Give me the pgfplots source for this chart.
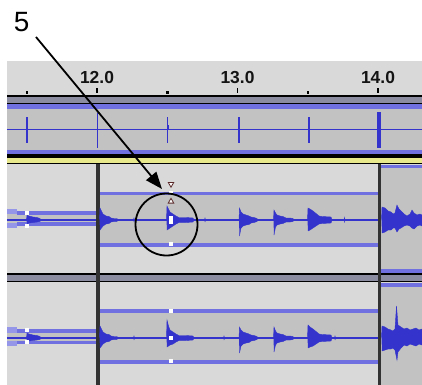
\documentclass[border=0pt]{standalone}
\usepackage{pgfplots}
\pgfplotsset{compat=1.18}
\usetikzlibrary{arrows.meta}
\usepackage{fontspec}
\setmainfont{Liberation Sans}
\definecolor{bg}{RGB}{217,217,217}
\definecolor{clipgray}{RGB}{194,194,194}
\definecolor{band}{RGB}{112,112,224}
\definecolor{bandlight}{RGB}{150,150,232}
\definecolor{wave}{RGB}{52,52,204}
\definecolor{sep}{RGB}{140,140,160}
\definecolor{yel}{RGB}{232,232,140}
\definecolor{clipline}{RGB}{50,50,50}
\definecolor{tri}{RGB}{90,40,40}
\newcommand{\rect}[5]{\addplot[fill=#1,draw=none,forget plot] coordinates {(#2,#3) (#4,#3) (#4,#5) (#2,#5)};}
\newcommand{\wv}[1]{\addplot[fill=wave,draw=wave,line width=0.4bp,forget plot] coordinates {#1};}
\begin{document}
\begin{tikzpicture}
\begin{axis}[width=422bp, height=385bp, scale only axis,
  xmin=11.3096, xmax=14.3132, ymin=0, ymax=385, y dir=reverse,
  hide axis, clip=true]
% backgrounds
\rect{white}{11.3096}{0}{14.3132}{385}
\rect{bg}{11.3594}{61}{14.3132}{95}
\rect{black}{11.3594}{95}{14.3132}{104}
\rect{sep}{11.3594}{96.5}{14.3132}{102.5}
\rect{band}{11.3594}{104}{14.3132}{109}
\rect{clipgray}{11.3594}{109}{14.3132}{150}
\rect{band}{11.3594}{150}{14.3132}{154}
\rect{black}{11.3594}{154}{14.3132}{164}
\rect{yel}{11.3594}{157.5}{14.3132}{162.5}
\rect{bg}{11.3594}{164}{14.3132}{273}
\rect{black}{11.3594}{273}{14.3132}{282}
\rect{sep}{11.3594}{274.5}{14.3132}{280.5}
\rect{bg}{11.3594}{282}{14.3132}{385}
% clip 2, track 2
\rect{band}{12.0178}{191.5}{14.0}{195}
\rect{clipgray}{12.0178}{195}{14.0}{242.5}
\rect{band}{12.0178}{242.5}{14.0}{246.5}
% right clip, track 2
\rect{band}{14.0214}{164.5}{14.3132}{168}
\rect{clipgray}{14.0214}{168}{14.3132}{268.5}
\rect{band}{14.0214}{268.5}{14.3132}{272.5}
% clip 2, track 3
\rect{band}{12.0178}{309}{14.0}{313}
\rect{clipgray}{12.0178}{313}{14.0}{360}
\rect{band}{12.0178}{360}{14.0}{364}
% right clip, track 3
\rect{band}{14.0214}{282.5}{14.3132}{287}
\rect{clipgray}{14.0214}{287}{14.3132}{385}
% left clip bands
\rect{bandlight}{11.3594}{209}{11.4306}{228}
\rect{clipgray}{11.3594}{214}{11.4306}{223}
\rect{band}{11.4306}{211}{11.9964}{226}
\rect{clipgray}{11.4306}{215}{11.9964}{222}
\rect{bandlight}{11.3594}{327}{11.4306}{346}
\rect{clipgray}{11.3594}{333}{11.4306}{341}
\rect{band}{11.4306}{329}{11.9964}{344}
\rect{clipgray}{11.4306}{333}{11.9964}{341}
% clip boundary lines
\rect{clipline}{11.9964}{164}{12.0178}{385}
\rect{clipline}{14.0}{164}{14.0214}{385}
% centre lines
\addplot[wave,line width=1.5bp,forget plot] coordinates {(11.3594,129.3) (14.3132,129.3)};
\addplot[wave,line width=1.3bp,forget plot] coordinates {(11.3594,220) (11.9964,220)};
\addplot[wave,line width=1.3bp,forget plot] coordinates {(12.0178,220) (14.0,220)};
\addplot[wave,line width=1.3bp,forget plot] coordinates {(11.3594,338) (11.9964,338)};
\addplot[wave,line width=1.3bp,forget plot] coordinates {(12.0178,338) (14.0,338)};
% track 1 spikes
\addplot[wave,line width=2.2bp,forget plot] coordinates {(11.5018,117) (11.5018,143)};
\addplot[wave,line width=1.2bp,forget plot] coordinates {(12.0050,113) (12.0050,148)};
\addplot[wave,line width=1.5bp,forget plot] coordinates {(12.5032,117) (12.5032,143)};
\addplot[wave,line width=1.5bp,forget plot] coordinates {(12.5075,125) (12.5075,129)};
\addplot[wave,line width=2.2bp,forget plot] coordinates {(13.0093,117) (13.0093,143)};
\addplot[wave,line width=2.2bp,forget plot] coordinates {(13.5075,117) (13.5075,143)};
\addplot[wave,line width=3.5bp,forget plot] coordinates {(14.0071,112) (14.0071,148)};
% track 2 waveform
\wv{(11.4982,220)(11.5018,215)(11.5160,216)(11.5445,217)(11.5730,217.5)(11.5943,218.5)(11.6014,220)(11.5943,221.5)(11.5730,222)(11.5445,222.5)(11.5160,223)(11.5018,224)}
\wv{(12.0178,220)(12.0214,208)(12.0320,211)(12.0427,214)(12.0641,216)(12.0854,216.5)(12.0996,218)(12.1210,218.5)(12.1423,218.5)(12.1495,220)(12.1423,221.5)(12.1210,221.5)(12.0996,222)(12.0854,223.5)(12.0641,224)(12.0427,226)(12.0320,228)(12.0214,230)}
\wv{(12.2598,220)(12.2633,218)(12.2669,220)(12.2633,222)}
\wv{(12.4947,220)(12.4982,206)(12.5089,209)(12.5196,212)(12.5409,214)(12.5623,216)(12.5836,217.5)(12.6335,217.5)(12.6833,218)(12.6904,220)(12.6833,222)(12.6335,222.5)(12.5836,222.5)(12.5623,224)(12.5409,226)(12.5196,228)(12.5089,229)(12.4982,230)}
\wv{(12.7651,220)(12.7687,218)(12.7722,220)(12.7687,222)}
\wv{(13.0107,220)(13.0142,208)(13.0249,212)(13.0391,214)(13.0605,215)(13.0819,216)(13.0961,217)(13.1174,217.5)(13.1388,218.5)(13.1459,220)(13.1388,221.5)(13.1174,222.5)(13.0961,223)(13.0819,224.5)(13.0605,225)(13.0391,226)(13.0249,228)(13.0142,236)}
\wv{(13.2562,220)(13.2598,210)(13.2705,213)(13.2811,215)(13.3025,216)(13.3238,216.5)(13.3452,218)(13.3737,218)(13.3950,218.5)(13.4021,220)(13.3950,221.5)(13.3737,222)(13.3452,222)(13.3238,223.5)(13.3025,224)(13.2811,225)(13.2705,227)(13.2598,235)}
\wv{(13.4982,220)(13.5018,208)(13.5160,209)(13.5374,211)(13.5587,213.5)(13.5801,216)(13.6014,216.5)(13.6655,217)(13.6726,220)(13.6655,223)(13.6014,223.5)(13.5801,224)(13.5587,226)(13.5374,228)(13.5160,230)(13.5018,231)}
\wv{(13.7580,220)(13.7616,217.5)(13.7651,220)(13.7616,222.5)}
\wv{(14.0249,220)(14.0285,207)(14.0498,208)(14.0712,211)(14.0925,212)(14.1068,214)(14.1210,213)(14.1352,205)(14.1495,209)(14.1637,211)(14.1851,214)(14.2064,216)(14.2278,214)(14.2420,210)(14.2562,213)(14.2776,215)(14.2989,214)(14.3132,215)(14.3132,226)(14.2989,225)(14.2776,226)(14.2562,229)(14.2420,228)(14.2278,226)(14.2064,225)(14.1851,226)(14.1637,228)(14.1495,229)(14.1352,232)(14.1210,228)(14.1068,228)(14.0925,230)(14.0712,230)(14.0498,232)(14.0285,233)}
% track 3 waveform
\wv{(11.4982,338)(11.5018,333)(11.5160,334)(11.5445,335)(11.5730,335.5)(11.5943,336.5)(11.6014,338)(11.5943,339.5)(11.5730,340)(11.5445,340.5)(11.5160,341)(11.5018,342)}
\wv{(12.0178,338)(12.0214,326)(12.0320,329)(12.0427,332)(12.0641,334)(12.0854,334.5)(12.0996,336)(12.1210,336.5)(12.1423,336.5)(12.1495,338)(12.1423,339.5)(12.1210,339.5)(12.0996,340)(12.0854,341.5)(12.0641,342)(12.0427,344)(12.0320,346)(12.0214,348)}
\wv{(12.2598,338)(12.2633,336)(12.2669,338)(12.2633,340)}
\wv{(12.4947,338)(12.4982,320)(12.5089,326)(12.5196,330)(12.5409,332)(12.5623,334)(12.5836,335.5)(12.6335,335.5)(12.6833,336)(12.6904,338)(12.6833,340)(12.6335,340.5)(12.5836,340.5)(12.5623,342)(12.5409,344)(12.5196,345)(12.5089,346)(12.4982,347)}
\wv{(12.9004,338)(12.9039,336)(12.9075,338)(12.9039,340)}
\wv{(13.0107,338)(13.0142,327)(13.0249,330)(13.0391,332)(13.0605,333)(13.0819,334)(13.0961,335)(13.1174,335.5)(13.1388,336.5)(13.1459,338)(13.1388,339.5)(13.1174,340.5)(13.0961,341)(13.0819,342.5)(13.0605,343)(13.0391,344)(13.0249,346)(13.0142,353)}
\wv{(13.2562,338)(13.2598,327)(13.2705,331)(13.2811,333)(13.3025,334)(13.3238,334.5)(13.3452,336)(13.3737,336)(13.3950,336.5)(13.4021,338)(13.3950,339.5)(13.3737,340)(13.3452,340)(13.3238,341.5)(13.3025,342)(13.2811,343)(13.2705,345)(13.2598,352)}
\wv{(13.4982,338)(13.5018,325)(13.5160,327)(13.5374,329)(13.5587,331.5)(13.5801,334)(13.6014,334.5)(13.6655,335)(13.6726,338)(13.6655,341)(13.6014,341.5)(13.5801,342)(13.5587,344)(13.5374,346)(13.5160,347)(13.5018,348)}
\wv{(13.6904,338)(13.6940,336)(13.6975,338)(13.6940,340)}
\wv{(14.0249,338)(14.0285,326)(14.0498,327)(14.0712,329)(14.0925,330)(14.1068,331)(14.1210,329)(14.1317,306)(14.1423,325)(14.1637,327)(14.1851,329)(14.2064,328)(14.2278,330)(14.2491,329)(14.2705,328)(14.2918,330)(14.3132,329)(14.3132,345)(14.2918,344)(14.2705,346)(14.2491,345)(14.2278,344)(14.2064,346)(14.1851,345)(14.1637,348)(14.1423,352)(14.1352,360)(14.1210,350)(14.1068,348)(14.0925,349)(14.0712,349)(14.0498,350)(14.0285,351)}
% envelope control points
\addplot[white, only marks, mark=square*, mark size=1.3bp, mark options={fill=white, draw=white, line width=0pt}, forget plot] coordinates {
(11.5018,213) (11.5018,226) (12.5267,192.5) (12.5267,218) (12.5267,222) (12.5267,244)
(11.5018,330) (11.5018,342) (12.5267,311) (12.5267,338) (12.5267,361)};
\addplot[tri, only marks, mark=triangle*, mark size=3.2bp, mark options={fill=white, draw=tri, line width=0.8bp, rotate=180}, forget plot] coordinates {(12.5267,184)};
\addplot[tri, only marks, mark=triangle*, mark size=3.2bp, mark options={fill=white, draw=tri, line width=0.8bp}, forget plot] coordinates {(12.5267,201.5)};
% ruler ticks
\addplot[black, line width=1.2bp, forget plot] coordinates {(12,88) (12,93)};
\addplot[black, line width=1.2bp, forget plot] coordinates {(13,88) (13,93)};
\addplot[black, line width=1.2bp, forget plot] coordinates {(14,88) (14,93)};
\addplot[black, only marks, mark=square*, mark size=0.7bp, mark options={fill=black, draw=none}, forget plot] coordinates {(11.5,92) (12.5,92) (13.5,92)};
\node[anchor=base, font=\bfseries\fontsize{17.5}{20}\selectfont, text={rgb,255:red,20;green,20;blue,20}] at (axis cs:12,83.3) {12.0};
\node[anchor=base, font=\bfseries\fontsize{17.5}{20}\selectfont, text={rgb,255:red,20;green,20;blue,20}] at (axis cs:13,83.3) {13.0};
\node[anchor=base, font=\bfseries\fontsize{17.5}{20}\selectfont, text={rgb,255:red,20;green,20;blue,20}] at (axis cs:14,83.3) {14.0};
% annotation
\node[anchor=base, font=\fontsize{28}{30}\selectfont] at (axis cs:11.464,31.7) {5};
\addplot[black, line width=1.8bp, -{Triangle[length=17bp, width=13bp]}, forget plot] coordinates {(11.5658,37) (12.4626,189)};
\addplot[black, only marks, mark=o, mark size=31bp, mark options={line width=1.8bp, draw=black, fill=none}, forget plot] coordinates {(12.4947,224.5)};
\end{axis}
\end{tikzpicture}
\end{document}
